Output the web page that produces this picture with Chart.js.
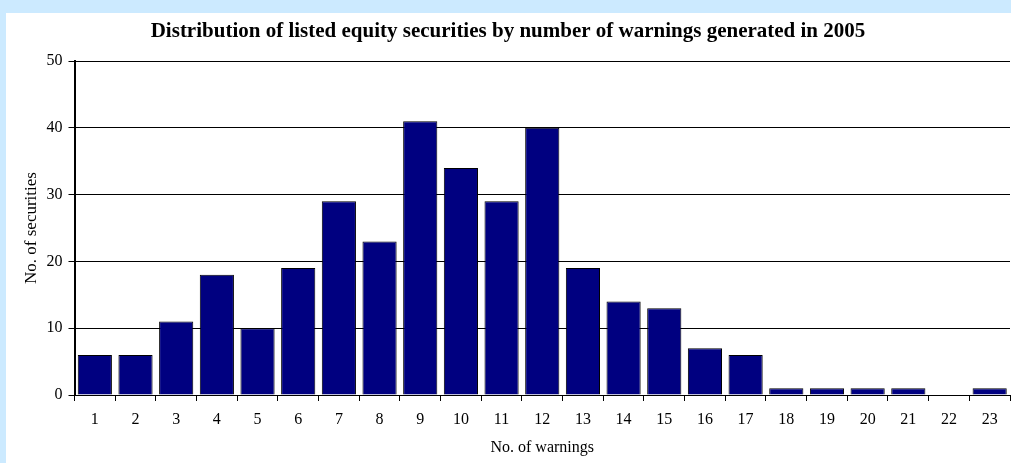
<!DOCTYPE html>
<html>
<head>
<meta charset="utf-8">
<script src="https://cdn.jsdelivr.net/npm/chart.js@4/dist/chart.umd.min.js"></script>
<style>
    html, body { margin: 0; padding: 0; background: #cceaff; }
    #box { position: absolute; left: 6px; top: 13px; width: 1005px; height: 450px; background: #fff; }
</style>
</head>
<body>
<div id="box"><canvas id="myChart" width="1005" height="450"></canvas></div>
<script>
    // categories: number of warnings
    const warnings = ["1", "2", "3", "4", "5", "6", "7", "8", "9", "10", "11", "12",
        "13", "14", "15", "16", "17", "18", "19", "20", "21", "22", "23"];
    // number of securities per category
    const securities = [6, 6, 11, 18, 10, 19, 29, 23, 41, 34, 29, 40, 19, 14, 13, 7, 6, 1, 1, 1, 1, 0, 1];
    const yTicks = [0, 10, 20, 30, 40, 50];

    const serif = "'Liberation Serif', 'Times New Roman', serif";
    const ctx = document.getElementById('myChart').getContext('2d');

    let chart = new Chart(ctx, {
        type: "bar",
        data: {
            labels: warnings,
            datasets: [
                {
                    label: "No. of securities",
                    backgroundColor: "#000080",
                    borderColor: "#000000",
                    borderWidth: 1,
                    data: securities,
                    barPercentage: 0.84,
                    categoryPercentage: 1.0,
                }
            ]
        },
        options: {
            responsive: false,
            animation: false,
            layout: { padding: { left: 0, right: 1, top: 0, bottom: 0 } },
            plugins: {
                legend: { display: false },
                tooltip: { enabled: false },
                title: {
                    display: true,
                    text: "Distribution of listed equity securities by number of warnings generated in 2005",
                    color: "#000",
                    font: { family: serif, size: 21, weight: "bold", lineHeight: 1.05 },
                    padding: { top: 8, bottom: 18 }
                }
            },
            scales: {
                x: {
                    afterFit: (scale) => { scale.height = 68; },
                    grid: { offset: true, drawOnChartArea: false, drawTicks: true, tickLength: 6, color: "#000" },
                    border: { color: "#000", width: 1 },
                    ticks: { color: "#000", font: { family: serif, size: 16 }, padding: 9, maxRotation: 0, autoSkip: false },
                    title: {
                        display: true, text: "No. of warnings", color: "#000",
                        font: { family: serif, size: 16 }, padding: { top: 0, bottom: 6 }
                    }
                },
                y: {
                    min: 0,
                    max: 50,
                    afterBuildTicks: (scale) => { scale.ticks = yTicks.map(v => ({ value: v })); },
                    afterFit: (scale) => { scale.width = 68.5; },
                    grid: { color: "#000", lineWidth: 1, drawTicks: true, tickLength: 6 },
                    border: { color: "#000", width: 2 },
                    ticks: { color: "#000", font: { family: serif, size: 16 }, padding: 6 },
                    title: {
                        display: true, text: "No. of securities", color: "#000",
                        font: { family: serif, size: 17 }, padding: { top: 15, bottom: 0 }
                    }
                }
            }
        }
    });
</script>
</body>
</html>
